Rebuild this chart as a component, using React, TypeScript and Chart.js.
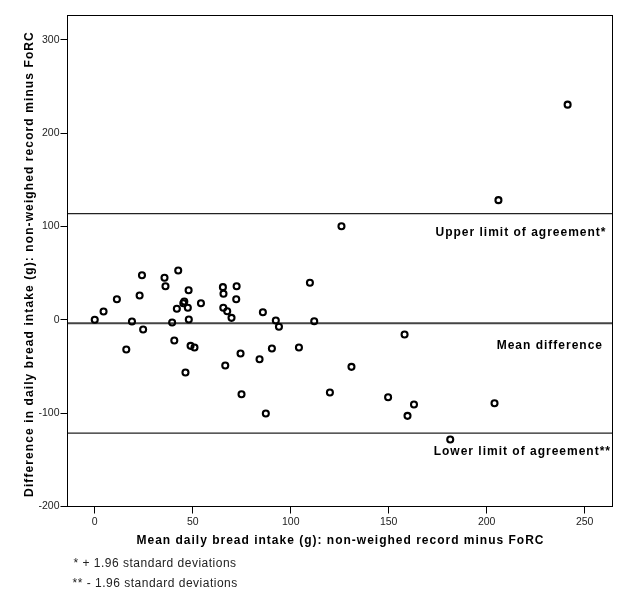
import React, { useEffect, useRef } from "react";
import { Chart, registerables } from "chart.js";

Chart.register(...registerables);

// Mean daily bread intake (g) — x
const meanIntake: number[] = [
  0, 4.5, 11.3, 24.1, 22.9, 19, 24.7, 16.1, 35.6, 36.1, 42.6, 47.9, 45.7, 45.2,
  41.9, 47.5, 54.2, 48, 39.5, 40.6, 48.9, 50.9, 46.3, 65.4, 65.7, 72.4, 72.2,
  65.6, 67.6, 69.8, 74.4, 66.6, 74.9, 85.8, 84.1, 90.4, 92.4, 94, 87.3, 104.2,
  109.8, 112, 120, 241.3, 206, 125.9, 158.1, 131, 149.7, 162.9, 159.6, 204, 181.4,
];
// Difference in daily bread intake (g) — y
const difference: number[] = [
  0, 8.9, 22, 47.8, 26, -1.8, -10.4, -31.8, 45, 36, 52.8, 31.7, 19.6, 17.8,
  11.8, 12.9, 17.8, 0.3, -2.9, -22.2, -27.9, -29.7, -56.5, 35, 27.9, 36, 22.1,
  12.9, 9.2, 2.1, -36.1, -49, -79.7, 8.1, -42.2, -30.8, -0.8, -7.5, -100.4, -29.7,
  39.7, -1.5, -77.9, 230.5, 128.2, 100.3, -15.8, -50.4, -82.9, -90.8, -102.9, -89.4, -128.3,
];

const upperLimit = 113.7;
const meanDifference = -3.8;
const lowerLimit = -121.3;

const xTicks: number[] = [0, 50, 100, 150, 200, 250];
const yTicks: number[] = [-200, -100, 0, 100, 200, 300];

const X_MIN = -13.9;
const X_MAX = 264.2;
const Y_MIN = -200;
const Y_MAX = 326;

const xTitle = "Mean daily bread intake (g): non-weighed record minus FoRC";
const yTitle = "Difference in daily bread intake (g): non-weighed record minus FoRC";
const upperLabel = "Upper limit of agreement*";
const meanLabel = "Mean difference";
const lowerLabel = "Lower limit of agreement**";
const footnotes: string[] = ["* + 1.96 standard deviations", "** - 1.96 standard deviations"];

const FONT = '"Liberation Sans", Arial, Helvetica, sans-serif';

const overlayPlugin = {
  id: "blandAltmanOverlay",
  afterDraw(chart: any) {
    const { ctx, chartArea: a, scales } = chart;
    const ys = scales.y;
    ctx.save();
    // frame
    ctx.strokeStyle = "#000";
    ctx.lineWidth = 1;
    ctx.strokeRect(a.left, a.top, a.right - a.left, a.bottom - a.top);

    // bold texts
    ctx.fillStyle = "#000";
    ctx.font = `bold 12px ${FONT}`;
    (ctx as any).letterSpacing = "1px";
    ctx.textBaseline = "middle";

    ctx.textAlign = "right";
    ctx.fillText(upperLabel, a.right - 6, ys.getPixelForValue(upperLimit) + 19.2);
    ctx.fillText(meanLabel, a.right - 9.5, ys.getPixelForValue(meanDifference) + 22.3);
    ctx.fillText(lowerLabel, a.right - 1.5, ys.getPixelForValue(lowerLimit) + 18.5);

    ctx.textAlign = "center";
    ctx.fillText(xTitle, (a.left + a.right) / 2 + 0.5, a.bottom + 34.5);

    ctx.save();
    (ctx as any).letterSpacing = "1.1px";
    ctx.translate(22, 256);
    ctx.rotate(-Math.PI / 2);
    ctx.fillText(yTitle, 0, 0);
    ctx.restore();

    // footnotes
    ctx.font = `12px ${FONT}`;
    (ctx as any).letterSpacing = "0.5px";
    ctx.fillStyle = "#222";
    ctx.textAlign = "left";
    ctx.fillText(footnotes[0], 65.5, a.bottom + 57.5);
    ctx.fillText(footnotes[1], 64.5, a.bottom + 77.5);
    ctx.restore();
  },
};

export default function App() {
  const canvasRef = useRef<HTMLCanvasElement | null>(null);

  useEffect(() => {
    if (!canvasRef.current) return;
    const points = meanIntake.map((x, i) => ({ x, y: difference[i] }));
    const hLine = (y: number) => [
      { x: X_MIN, y },
      { x: X_MAX, y },
    ];
    const chart = new Chart(canvasRef.current, {
      type: "scatter",
      data: {
        datasets: [
          {
            type: "scatter",
            label: "Observations",
            data: points,
            pointStyle: "circle",
            pointRadius: 3,
            pointBorderWidth: 2.1,
            borderColor: "#000",
            backgroundColor: "rgba(255,255,255,0)",
            order: 1,
          } as any,
          {
            type: "line",
            label: "Upper limit",
            data: hLine(upperLimit),
            borderColor: "#222",
            borderWidth: 1.2,
            pointRadius: 0,
            order: 2,
          },
          {
            type: "line",
            label: "Mean difference",
            data: hLine(meanDifference),
            borderColor: "#444",
            borderWidth: 2,
            pointRadius: 0,
            order: 2,
          },
          {
            type: "line",
            label: "Lower limit",
            data: hLine(lowerLimit),
            borderColor: "#222",
            borderWidth: 1.2,
            pointRadius: 0,
            order: 2,
          },
        ],
      },
      options: {
        animation: false,
        responsive: true,
        maintainAspectRatio: false,
        events: [],
        layout: { padding: { top: 7.5, right: 8.5, left: 0, bottom: 0 } },
        plugins: {
          legend: { display: false },
          tooltip: { enabled: false },
          title: { display: false },
        },
        scales: {
          x: {
            type: "linear",
            min: X_MIN,
            max: X_MAX,
            afterBuildTicks: (scale: any) => {
              scale.ticks = xTicks.map((value) => ({ value }));
            },
            afterFit: (scale: any) => {
              scale.height = 101.5;
            },
            grid: {
              drawOnChartArea: false,
              drawTicks: true,
              tickLength: 7,
              color: "#000",
              lineWidth: 1,
            },
            border: { display: false },
            ticks: {
              padding: 2,
              color: "#222",
              font: { family: FONT, size: 10.5 },
              maxRotation: 0,
              autoSkip: false,
            },
            title: { display: false },
          },
          y: {
            type: "linear",
            min: Y_MIN,
            max: Y_MAX,
            afterBuildTicks: (scale: any) => {
              scale.ticks = yTicks.map((value) => ({ value }));
            },
            afterFit: (scale: any) => {
              scale.width = 59.5;
            },
            grid: {
              drawOnChartArea: false,
              drawTicks: true,
              tickLength: 7,
              color: "#000",
              lineWidth: 1,
            },
            border: { display: false },
            ticks: {
              padding: 1,
              color: "#222",
              font: { family: FONT, size: 10.5 },
              autoSkip: false,
            },
            title: { display: false },
          },
        },
      },
      plugins: [overlayPlugin],
    } as any);
    return () => chart.destroy();
  }, []);

  return (
    <div style={{ position: "relative", width: 613, height: 600 }}>
      <canvas ref={canvasRef} style={{ display: "block" }} />
    </div>
  );
}
